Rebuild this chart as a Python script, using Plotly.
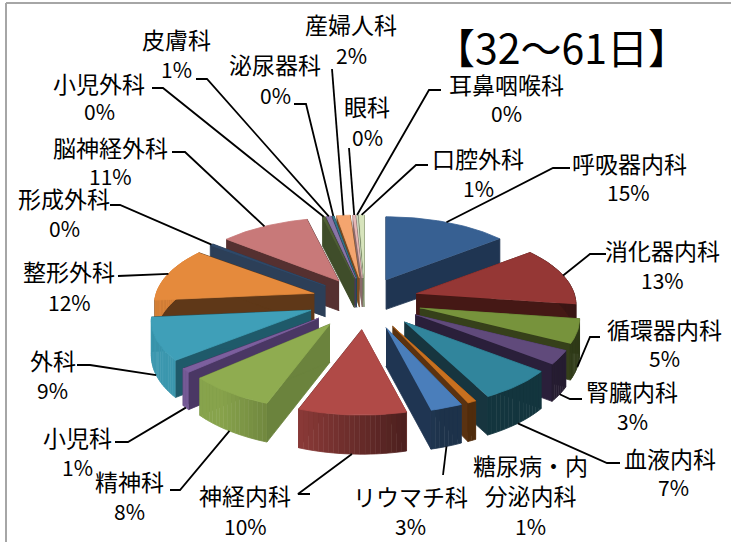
import numpy as np
import plotly.graph_objects as go

categories = ["呼吸器内科", "消化器内科", "循環器内科", "腎臓内科", "血液内科", "糖尿病・内<br>分泌内科",
              "リウマチ科", "神経内科", "精神科", "小児科", "外科", "整形外科", "形成外科", "脳神経外科",
              "小児外科", "皮膚科", "泌尿器科", "産婦人科", "眼科", "耳鼻咽喉科", "口腔外科"]
values = [14.6, 12.7, 5.2, 3.0, 6.9, 0.8, 2.9, 9.7, 7.8, 0.9, 9.2, 11.7, 0.4, 10.6,
          0.3, 0.6, 0.2, 1.6, 0.3, 0.2, 0.6]
top_colors = ["#376092", "#953735", "#77933c", "#604a7b", "#31859c", "#c8701f", "#4a7ebb", "#b04a47",
              "#8fac50", "#7c5f9e", "#3f9fb8", "#e58a3c", "#2f4a6b", "#c87979", "#4f6035", "#8a76a8",
              "#33768a", "#f4a56f", "#e6b8b7", "#cfd8c0", "#d7e4bc"]
wall_colors = ["#1f3552", "#451815", "#36401a", "#2a1f3a", "#17353f", "#5a3211", "#1f3552", "#6e2c2a",
               "#6b833d", "#4a3764", "#1f5a6a", "#5f3818", "#2c3f58", "#553030", "#3f4d2a", "#4a3a60",
               "#1f4a58", "#7a4a20", "#8a6a6a", "#6a7a60", "#7a8a60"]
label_pos = [(629, 163), (662, 250), (664, 329), (632, 391), (670, 458), (530, 480), (410, 496), (245, 495),
             (129, 481), (77, 437), (53, 360), (69, 271), (64, 198), (110, 147), (99, 83), (176, 39),
             (275, 64), (351, 24), (367, 106), (506, 84), (478, 158)]
pct_pos = [(628, 192), (662, 280), (664, 358), (632, 421), (673, 487), (530, 526), (410, 526), (245, 526),
           (129, 511), (77, 467), (52, 390), (69, 302), (64, 228), (110, 176), (99, 111), (176, 69),
           (275, 95), (351, 55), (367, 137), (506, 113), (478, 188)]
leader_start = [[(570, 168), (553, 168)], [(606, 254), (590, 254)], [(600, 337), (590, 337)],
                [(582, 399), (570, 399)], [(620, 463), (607, 463)], None, [(443, 475)],
                [(310, 494), (298, 494)], [(170, 490), (180, 490)], [(115, 442), (128, 442)],
                [(77, 365), (90, 365)], [(118, 276)], [(110, 205), (120, 205)], [(172, 152), (185, 152)],
                [(152, 88), (163, 88)], [(196, 79), (207, 79)], [(294, 104), (306, 104)], [(332, 69)],
                [(349, 148)], [(441, 90), (429, 90)], [(428, 165), (416, 165)]]

CX, CY, RX, EXPL, K, P, THICK = 365, 300, 158, 55, 0.47, 0.15, 34

fr = np.array(values) / sum(values)
edges = np.concatenate([[0], np.cumsum(fr)]) * 2 * np.pi


def s(t):
    return 1 - P * np.cos(t)


def shade(hexc, f):
    r, g, b = [int(hexc[i:i + 2], 16) for i in (1, 3, 5)]
    return f"rgb({int(r * f)},{int(g * f)},{int(b * f)})"


def apex(mid):
    return CX + EXPL * s(mid) * np.sin(mid), CY - K * EXPL * s(mid) * np.cos(mid)


def outer(a, t):
    return a[0] + RX * s(t) * np.sin(t), a[1] - K * RX * s(t) * np.cos(t)


fig = go.Figure()


def poly(xs, ys, color):
    fig.add_trace(go.Scatter(x=list(xs), y=list(ys), mode="lines", fill="toself", fillcolor=color,
                             line=dict(color=color, width=0.8), hoverinfo="skip", showlegend=False))


mids = (edges[:-1] + edges[1:]) / 2
order = sorted(range(len(values)), key=lambda i: -np.cos(mids[i]))
for i in order:
    t0, t1, m = edges[i], edges[i + 1], mids[i]
    a = apex(m)
    ta = THICK * s(m)
    for t in (t0, t1):
        p = outer(a, t)
        tp = THICK * s(t)
        poly([a[0], p[0], p[0], a[0]], [a[1], p[1], p[1] + tp, a[1] + ta], wall_colors[i])
    n = max(2, int((t1 - t0) / 0.03) + 1)
    ts = np.linspace(t0, t1, n + 1)
    if np.cos(m) < 0.6:
        for u, v in zip(ts[:-1], ts[1:]):
            pu, pv = outer(a, u), outer(a, v)
            f = float(np.clip(0.58 - 0.6 * np.sin((u + v) / 2), 0.4, 0.95))
            poly([pu[0], pv[0], pv[0], pu[0]],
                 [pu[1], pv[1], pv[1] + THICK * s(v), pu[1] + THICK * s(u)], shade(top_colors[i], f))
    arc = np.linspace(t0, t1, n + 3)
    pts = [outer(a, t) for t in arc]
    poly([a[0]] + [p[0] for p in pts], [a[1]] + [p[1] for p in pts], top_colors[i])

for i, start in enumerate(leader_start):
    if start is None:
        continue
    m = mids[i]
    e = outer(apex(m), m)
    ey = e[1] + (THICK * s(m) if np.cos(m) < -0.05 else 0)
    fig.add_trace(go.Scatter(x=[p[0] for p in start] + [e[0]], y=[p[1] for p in start] + [ey], mode="lines",
                             line=dict(color="black", width=1.8), hoverinfo="skip", showlegend=False))

FONT = "Noto Sans CJK JP"
for i, name in enumerate(categories):
    fig.add_annotation(x=label_pos[i][0], y=label_pos[i][1], text=name, showarrow=False,
                       font=dict(family=FONT, size=23, color="black"))
    fig.add_annotation(x=pct_pos[i][0], y=pct_pos[i][1], text=f"{round(values[i])}%", showarrow=False,
                       font=dict(family=FONT, size=21, color="black"))
fig.add_annotation(x=561, y=46, text="【32～61日】", showarrow=False,
                   font=dict(family=FONT, size=41, color="black"))

fig.add_shape(type="line", x0=6, x1=6, y0=3, y1=542, line=dict(color="#a6a6a6", width=2))
fig.add_shape(type="line", x0=6, x1=731, y0=3, y1=3, line=dict(color="#a6a6a6", width=2))

fig.update_layout(width=731, height=542, margin=dict(l=0, r=0, t=0, b=0), paper_bgcolor="white",
                  plot_bgcolor="white", showlegend=False,
                  xaxis=dict(range=[0, 731], visible=False, fixedrange=True),
                  yaxis=dict(range=[542, 0], visible=False, fixedrange=True))
fig.write_html("out.html", config={"displayModeBar": False},
               post_script="document.body.style.margin='0';document.body.style.overflow='hidden';")
